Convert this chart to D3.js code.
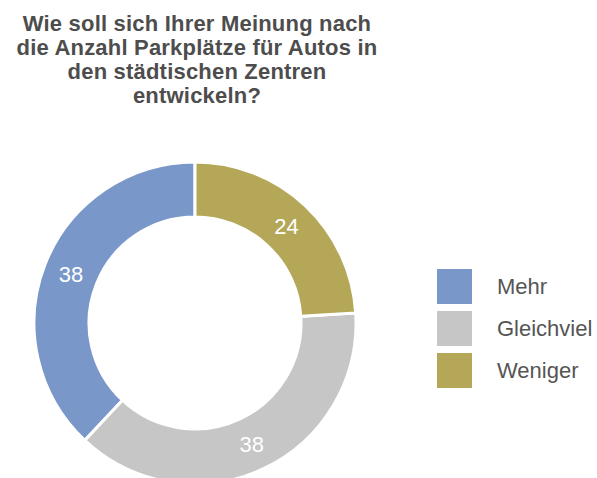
<!DOCTYPE html>
<html>
<head>
<meta charset="utf-8">
<script src="https://cdn.jsdelivr.net/npm/d3@7"></script>
<style>
  html, body { margin: 0; padding: 0; background: #fff; }
  svg { display: block; }
</style>
</head>
<body>
<svg id="chart" width="597" height="478"></svg>
<script>
// Survey answers and their shares (percent)
const categories = ["Mehr", "Gleichviel", "Weniger"];
const values = [38, 38, 24];
const colors = ["#7997c9", "#c6c6c6", "#b4a858"];
const titleLines = [
  "Wie soll sich Ihrer Meinung nach",
  "die Anzahl Parkplätze für Autos in",
  "den städtischen Zentren",
  "entwickeln?"
];

const svg = d3.select("#chart");
const font = "'Liberation Sans', Arial, sans-serif";

// Title
svg.append("text")
  .attr("text-anchor", "middle")
  .attr("font-family", font)
  .attr("font-weight", "bold")
  .attr("font-size", 22)
  .attr("letter-spacing", 0.2)
  .attr("fill", "#4d4d4d")
  .selectAll("tspan")
  .data(titleLines)
  .join("tspan")
  .attr("x", 197)
  .attr("y", (d, i) => 31 + i * 24)
  .text(d => d);

// Donut
const cx = 195, cy = 323, outerR = 161, innerR = 106;
const data = categories.map((c, i) => ({ category: c, value: values[i], color: colors[i] }));

// Slices run counter-clockwise from 12 o'clock in category order
const pie = d3.pie()
  .value(d => d.value)
  .sort(null)
  .startAngle(0)
  .endAngle(-2 * Math.PI);

const arc = d3.arc().innerRadius(innerR).outerRadius(outerR);

const g = svg.append("g").attr("transform", `translate(${cx},${cy})`);
const arcs = pie(data);

g.selectAll("path")
  .data(arcs)
  .join("path")
  .attr("d", arc)
  .attr("fill", d => d.data.color)
  .attr("stroke", "#fff")
  .attr("stroke-width", 3)
  .attr("stroke-linejoin", "miter");

g.selectAll("text.value")
  .data(arcs)
  .join("text")
  .attr("class", "value")
  .attr("transform", d => `translate(${arc.centroid(d)})`)
  .attr("text-anchor", "middle")
  .attr("dy", "0.36em")
  .attr("font-family", font)
  .attr("font-size", 22)
  .attr("fill", "#fff")
  .text(d => d.data.value);

// Legend
const legend = svg.append("g").attr("transform", "translate(437,269)");
const item = legend.selectAll("g")
  .data(data)
  .join("g")
  .attr("transform", (d, i) => `translate(0,${i * 42})`);

item.append("rect")
  .attr("width", 35)
  .attr("height", 35)
  .attr("fill", d => d.color);

item.append("text")
  .attr("x", 60)
  .attr("y", 17.5)
  .attr("dy", "0.36em")
  .attr("font-family", font)
  .attr("font-size", 22)
  .attr("fill", "#555")
  .text(d => d.category);
</script>
</body>
</html>
